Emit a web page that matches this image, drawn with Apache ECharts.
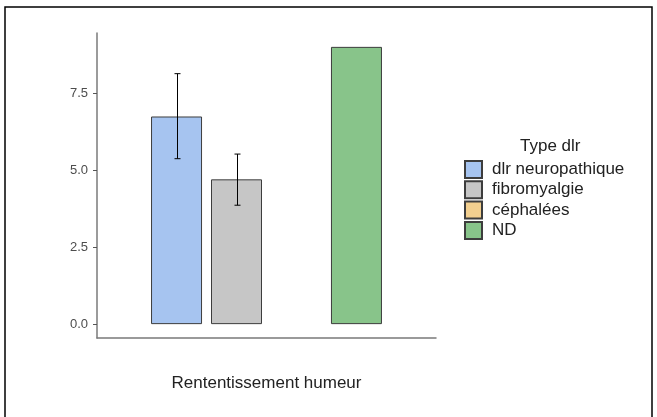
<!DOCTYPE html>
<html>
<head>
<meta charset="utf-8">
<script src="https://cdn.jsdelivr.net/npm/echarts@6/dist/echarts.min.js"></script>
<style>
  html, body { margin: 0; padding: 0; background: #fff; }
  #chart { width: 657px; height: 417px; }
</style>
</head>
<body>
<div id="chart"></div>
<script>
var categories = ['Rententissement humeur'];
var typeNames = ['dlr neuropathique', 'fibromyalgie', 'céphalées', 'ND'];
var typeColors = ['#a6c4f0', '#c6c6c6', '#f2cf8f', '#88c48a'];
var means = [6.74, 4.70, null, 9.0];
var errLow = [5.37, 3.86, null, null];
var errHigh = [8.13, 5.52, null, null];
var yTicks = [0, 2.5, 5, 7.5];

var BAR_W = 51, BAR_GAP = 9;

function loadChart() {
    var myChart = echarts.init(document.getElementById('chart'));

    var series = typeNames.map(function (name, i) {
        return {
            name: name,
            type: 'bar',
            barWidth: BAR_W,
            barGap: (BAR_GAP / BAR_W * 100).toFixed(1) + '%',
            data: [means[i]],
            itemStyle: {
                color: typeColors[i],
                borderColor: '#3d3d3d',
                borderWidth: 1
            },
            emphasis: { disabled: true }
        };
    });

    // barres d'erreur
    var errData = [];
    for (var i = 0; i < typeNames.length; i++) {
        if (errLow[i] != null) errData.push([0, errLow[i], errHigh[i], i]);
    }
    series.push({
        type: 'custom',
        name: 'err',
        data: errData,
        encode: { x: 0, y: [1, 2] },
        z: 10,
        renderItem: function (params, api) {
            var idx = api.value(3);
            var off = (idx - (typeNames.length - 1) / 2) * (BAR_W + BAR_GAP);
            var lo = api.coord([api.value(0), api.value(1)]);
            var hi = api.coord([api.value(0), api.value(2)]);
            var x = lo[0] + off + 1;
            var st = { stroke: '#000', lineWidth: 1 };
            return {
                type: 'group',
                children: [
                    { type: 'line', shape: { x1: x, y1: lo[1], x2: x, y2: hi[1] }, style: st },
                    { type: 'line', shape: { x1: x - 3, y1: lo[1], x2: x + 3, y2: lo[1] }, style: st },
                    { type: 'line', shape: { x1: x - 3, y1: hi[1], x2: x + 3, y2: hi[1] }, style: st }
                ]
            };
        }
    });

    var option = {
        animation: false,
        textStyle: { fontFamily: 'Liberation Sans, Arial, sans-serif' },
        grid: { left: 97, right: 221, top: 33, bottom: 79 },
        title: {
            text: 'Type dlr',
            left: 515,
            top: 133,
            textStyle: { fontSize: 17, fontWeight: 'normal', color: '#222', fontFamily: 'Liberation Sans' }
        },
        legend: {
            data: typeNames,
            orient: 'vertical',
            left: 464,
            top: 160,
            icon: 'rect',
            itemWidth: 17,
            itemHeight: 17,
            itemGap: 1.3,
            padding: 0,
            textStyle: { fontSize: 17, lineHeight: 17, color: '#222', padding: [0, 0, 0, 5], fontFamily: 'Liberation Sans' },
            selectedMode: false
        },
        xAxis: {
            type: 'category',
            data: categories,
            axisLine: { onZero: false, lineStyle: { color: '#7a7a7a', width: 1.5 } },
            axisTick: { alignWithLabel: true, length: 4, lineStyle: { color: '#555' } },
            axisLabel: { margin: 37, fontSize: 17, color: '#222' }
        },
        yAxis: {
            type: 'value',
            min: -0.45,
            max: 9.45,
            splitLine: { show: false },
            axisLine: { show: true, lineStyle: { color: '#7a7a7a', width: 1.5 } },
            axisTick: { show: true, length: 4, customValues: yTicks, lineStyle: { color: '#555' } },
            axisLabel: {
                customValues: yTicks,
                fontSize: 13,
                color: '#4d4d4d',
                margin: 9,
                formatter: function (v) { return v.toFixed(1); }
            }
        },
        graphic: [{
            type: 'rect',
            shape: { x: 5, y: 7, width: 647, height: 420 },
            style: { fill: null, stroke: '#000', lineWidth: 1.5 },
            silent: true
        }],
        series: series
    };

    myChart.setOption(option);
}

loadChart();
</script>
</body>
</html>
